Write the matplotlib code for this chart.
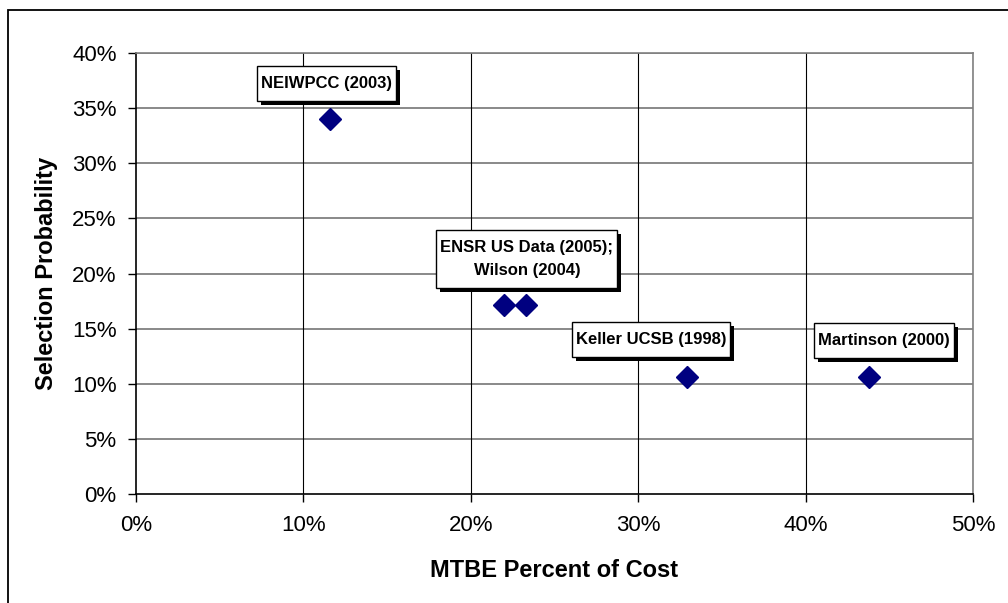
import matplotlib
matplotlib.use("Agg")
import matplotlib.pyplot as plt
from matplotlib.ticker import FuncFormatter
from matplotlib.patches import Rectangle
from matplotlib.transforms import IdentityTransform

# Data
labels = ["NEIWPCC (2003)", "ENSR US Data (2005);\nWilson (2004)", "Keller UCSB (1998)", "Martinson (2000)"]
mtbe_cost = [11.6, 22.0, 23.3, 32.9, 43.8]          # % of cost
selection_prob = [34.0, 17.1, 17.1, 10.6, 10.6]     # %
# label anchor positions (layout)
label_pos = [(11.4, 37.2), (23.35, 21.3), (30.75, 14.0), (44.7, 13.9)]

x_ticks = [0, 10, 20, 30, 40, 50]
y_ticks = [0, 5, 10, 15, 20, 25, 30, 35, 40]

plt.rcParams['font.family'] = ['Liberation Sans', 'DejaVu Sans']

fig = plt.figure(figsize=(10.08, 6.03), dpi=100)
W, H = 1008, 603
ax = fig.add_axes([136 / W, 1 - 494 / H, (973 - 136) / W, (494 - 53) / H])

# outer frame
fig.patches.append(Rectangle((8 / W, -0.1), 1.2, 1 - 10 / H + 0.1, transform=fig.transFigure,
                             fill=False, edgecolor='black', linewidth=1.3))

ax.set_xlim(0, 50)
ax.set_ylim(0, 40)
ax.set_xticks(x_ticks)
ax.set_yticks(y_ticks)
ax.xaxis.set_major_formatter(FuncFormatter(lambda v, p: f"{v:.0f}%"))
ax.yaxis.set_major_formatter(FuncFormatter(lambda v, p: f"{v:.0f}%"))

for y in y_ticks[1:]:
    ax.axhline(y, color='#808080', linewidth=1.3, zorder=1)
for x in x_ticks[1:]:
    ax.axvline(x, color='black', linewidth=0.8, zorder=1)

ax.spines['left'].set_color('black')
ax.spines['bottom'].set_color('black')
ax.spines['top'].set_color('#808080')
ax.spines['right'].set_color('#808080')
for s in ax.spines.values():
    s.set_linewidth(1.2)

ax.tick_params(axis='both', direction='out', length=6, width=1, labelsize=16, color='black')
ax.tick_params(axis='y', pad=8)
ax.tick_params(axis='x', pad=9)

ax.plot(mtbe_cost, selection_prob, linestyle='none', marker='D', markersize=11,
        color='#000080', markeredgecolor='#000080', zorder=3)

texts = []
for lab, (lx, ly) in zip(labels, label_pos):
    t = ax.text(lx, ly, lab, ha='center', va='center', fontsize=12, fontweight='bold',
                multialignment='center', linespacing=1.65, zorder=6)
    texts.append(t)

ax.set_xlabel("MTBE Percent of Cost", fontsize=17, fontweight='bold', labelpad=17)
ax.set_ylabel("Selection Probability", fontsize=17, fontweight='bold', labelpad=10)

fig.canvas.draw()
renderer = fig.canvas.get_renderer()
padx, pady, sh = 4, 10, 4
for t in texts:
    bb = t.get_window_extent(renderer)
    x0, y0 = bb.x0 - padx, bb.y0 - pady
    w, h = bb.width + 2 * padx, bb.height + 2 * pady
    ax.add_patch(Rectangle((x0 + sh, y0 - sh), w, h, transform=IdentityTransform(),
                           facecolor='black', edgecolor='none', zorder=4, clip_on=False))
    ax.add_patch(Rectangle((x0, y0), w, h, transform=IdentityTransform(),
                           facecolor='white', edgecolor='black', linewidth=1, zorder=5, clip_on=False))

fig.savefig("out.png", dpi=100)
